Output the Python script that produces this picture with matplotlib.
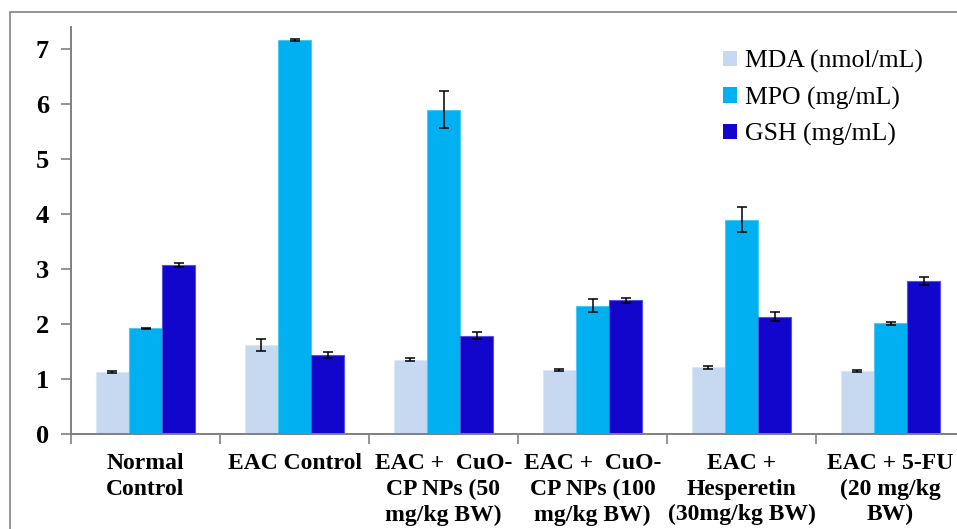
import matplotlib
matplotlib.use("Agg")
import matplotlib.pyplot as plt
import numpy as np
from matplotlib.patches import Rectangle

plt.rcParams["font.family"] = ["Liberation Serif", "DejaVu Serif"]

groups = [
    "Normal\nControl",
    "EAC Control",
    "EAC +  CuO-\nCP NPs (50\nmg/kg BW)",
    "EAC +  CuO-\nCP NPs (100\nmg/kg BW)",
    "EAC +\nHesperetin\n(30mg/kg BW)",
    "EAC + 5-FU\n(20 mg/kg\nBW)",
]
series_names = ["MDA (nmol/mL)", "MPO (mg/mL)", "GSH (mg/mL)"]
mda = [1.13, 1.62, 1.35, 1.16, 1.21, 1.14]
mpo = [1.92, 7.16, 5.90, 2.33, 3.90, 2.01]
gsh = [3.07, 1.44, 1.79, 2.43, 2.13, 2.78]
mda_err = [0.015, 0.11, 0.03, 0.015, 0.02, 0.015]
mpo_err = [0.015, 0.02, 0.34, 0.12, 0.22, 0.02]
gsh_err = [0.04, 0.05, 0.07, 0.05, 0.08, 0.07]
yticks = [0, 1, 2, 3, 4, 5, 6, 7]

colors = ["#C6D9F1", "#00B0F0", "#1205CC"]
edges = ["#DCE8F7", "#4CC8F5", "#5A50E0"]

W, H = 957, 529
fig = plt.figure(figsize=(W / 100, H / 100), dpi=100)
fig.patch.set_facecolor("white")

# outer frame, runs off the right and bottom edges
fig.add_artist(Rectangle((10 / W, -0.2), 1.2, (H - 12) / H + 0.2,
                         transform=fig.transFigure, fill=False,
                         edgecolor="#8C8C8C", linewidth=1.3))

ax = fig.add_axes([71 / W, 95 / H, 894 / W, 407 / H])

x = np.arange(len(groups)) + 0.5
bw = 0.2236
handles = []
for i, (vals, errs) in enumerate([(mda, mda_err), (mpo, mpo_err), (gsh, gsh_err)]):
    b = ax.bar(x + (i - 1) * bw, vals, width=bw, color=colors[i],
               edgecolor=edges[i], linewidth=0.8, label=series_names[i], zorder=2)
    ax.errorbar(x + (i - 1) * bw, vals, yerr=errs, fmt="none", ecolor="black",
                elinewidth=1.1, capsize=3.8, capthick=1.1, zorder=3)
    handles.append(b)

ax.set_xlim(0, len(groups))
ax.set_ylim(0, 7.4)

ax.set_yticks(yticks)
ax.set_yticklabels([str(t) for t in yticks], fontsize=19, fontweight="bold")
ax.tick_params(axis="y", length=7, width=1.2, color="#808080", pad=9)

# boundary ticks on the category axis, names centred underneath
ax.set_xticks(np.arange(len(groups) + 1))
ax.set_xticklabels([])
ax.tick_params(axis="x", which="major", length=7, width=1.2, color="#808080")
ax.set_xticks(x, minor=True)
ax.set_xticklabels(groups, minor=True, fontsize=17, fontweight="bold",
                   linespacing=1.27, va="top")
ax.tick_params(axis="x", which="minor", length=0, pad=14)

for side in ["top", "right"]:
    ax.spines[side].set_visible(False)
for side in ["left", "bottom"]:
    ax.spines[side].set_color("#808080")
    ax.spines[side].set_linewidth(1.4)

leg = fig.legend(handles=handles, loc="upper left",
                 bbox_to_anchor=(705 / W, 1 - 32 / H), frameon=False,
                 fontsize=18.5, handlelength=0.55, handleheight=0.55,
                 handletextpad=0.3, labelspacing=0.52, borderpad=0.2)
for h in leg.legend_handles:
    h.set_linewidth(0)

fig.savefig("out.png", dpi=100)
